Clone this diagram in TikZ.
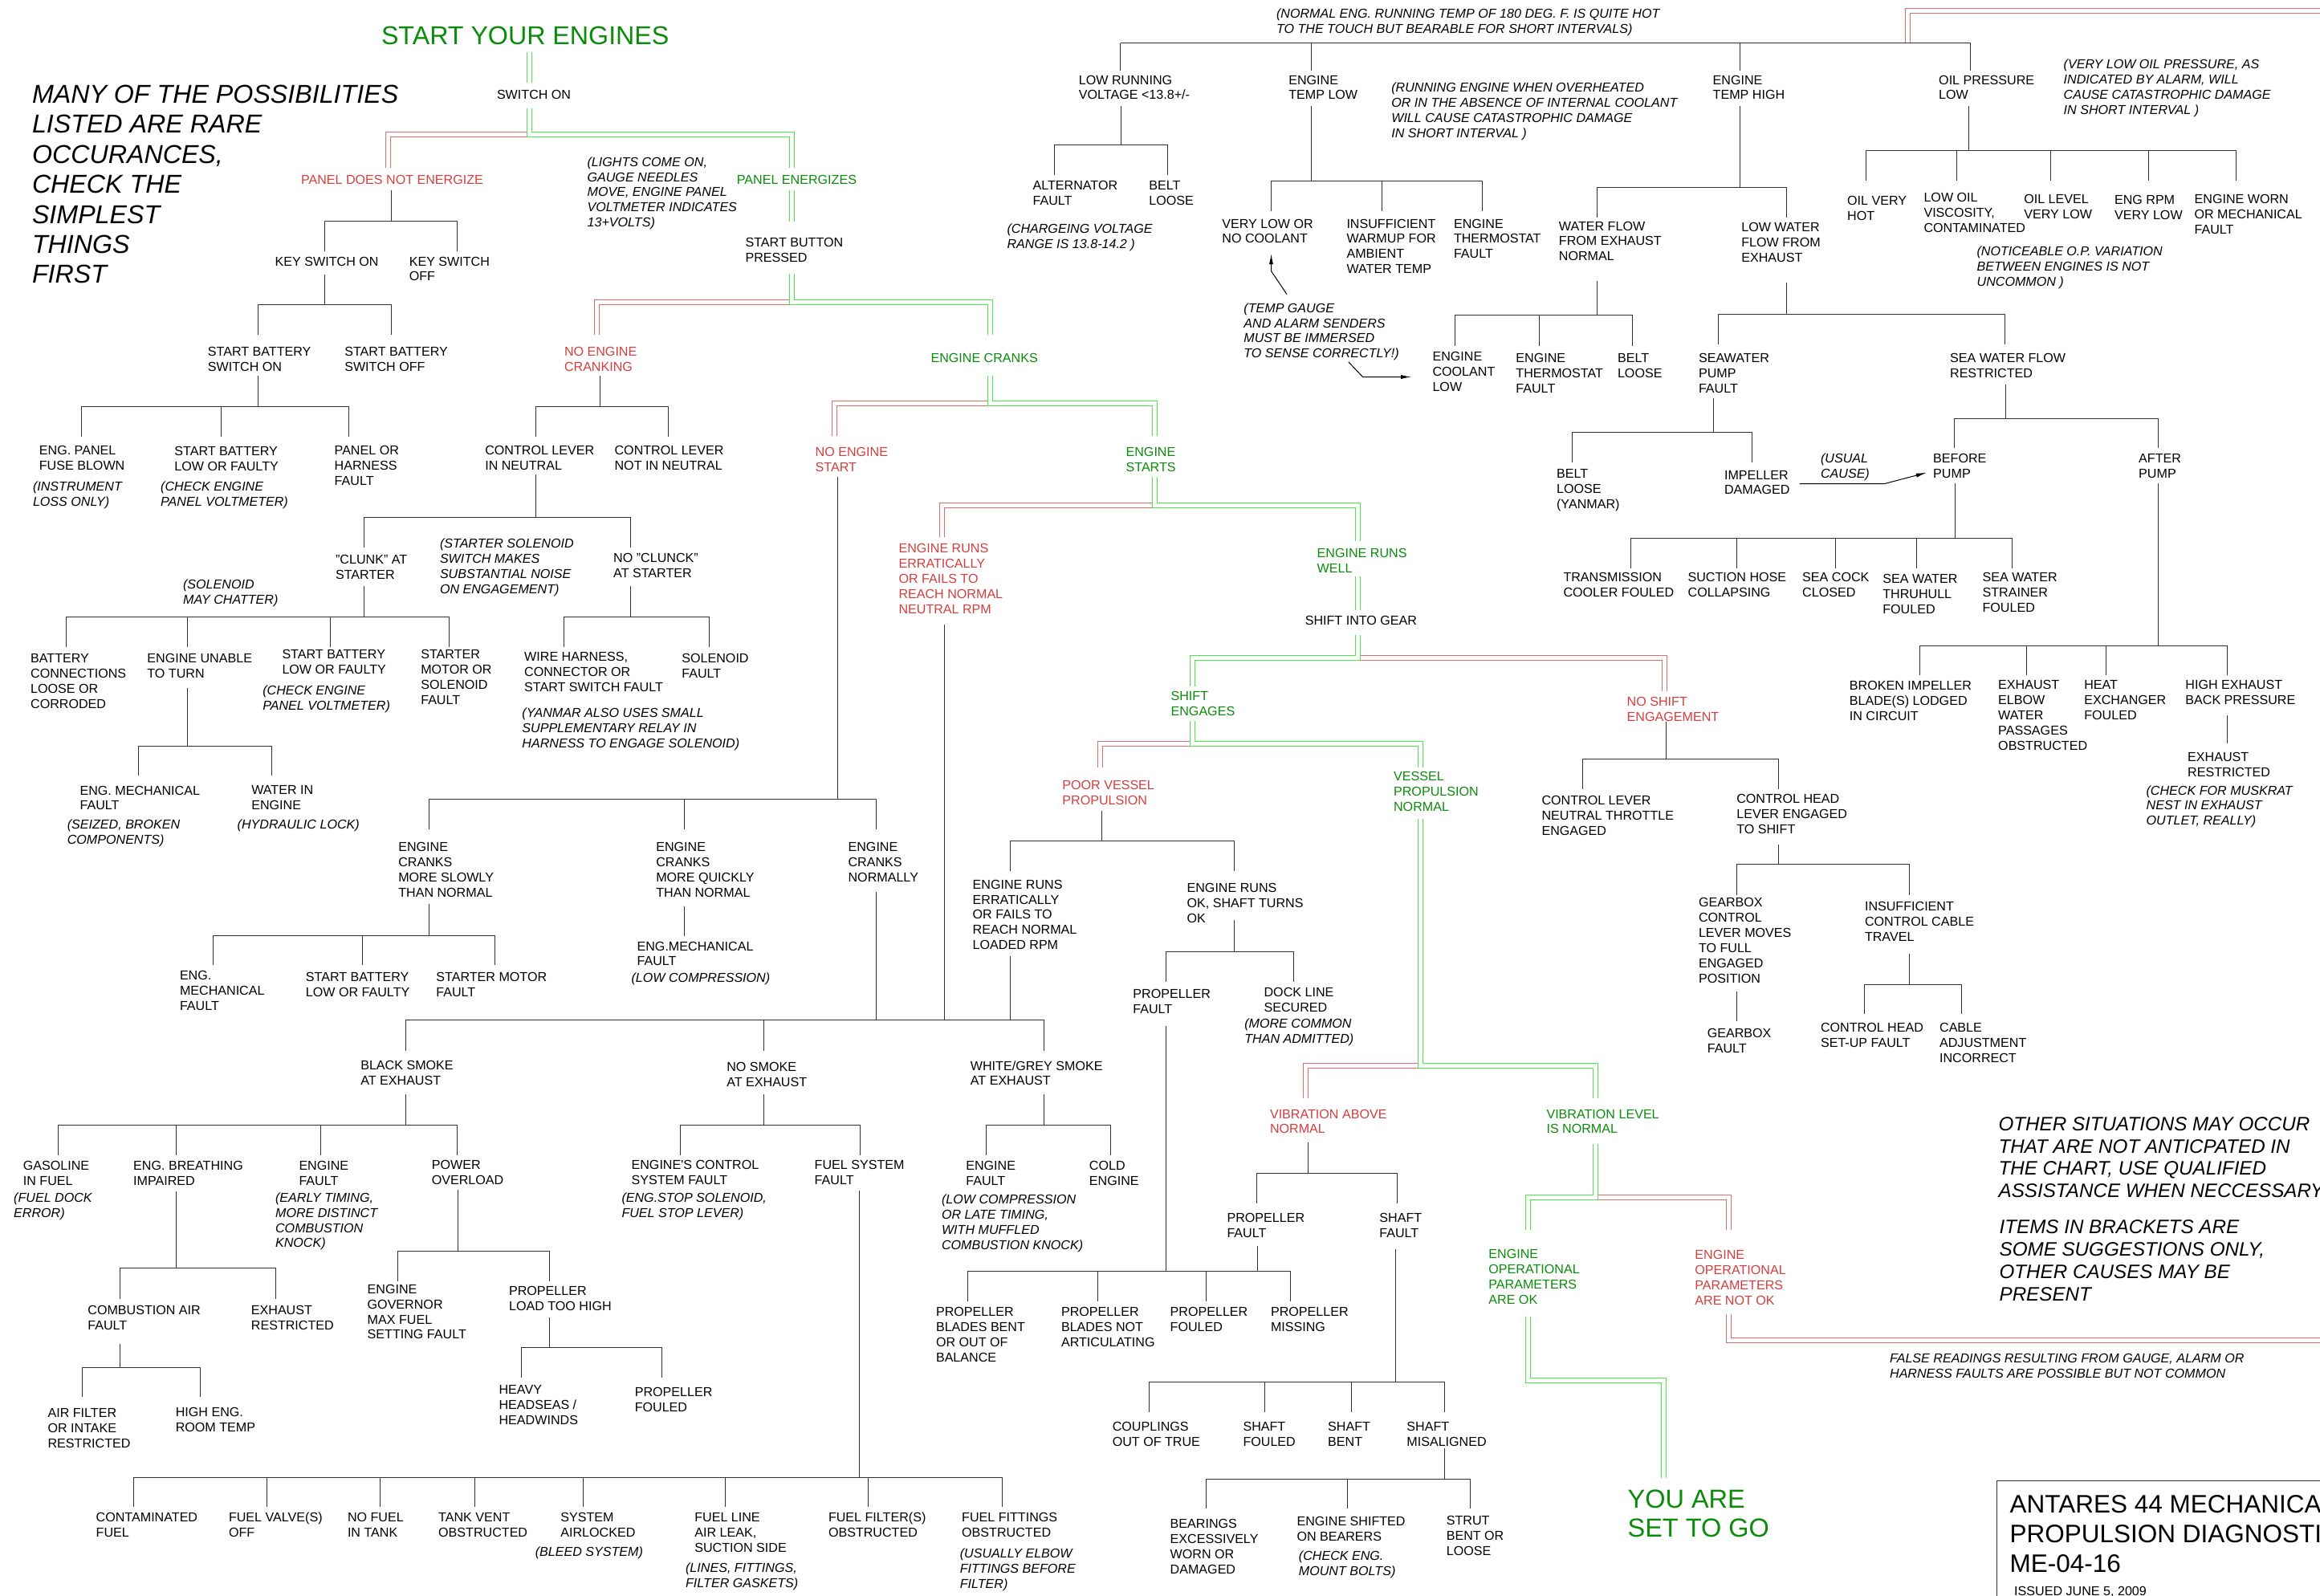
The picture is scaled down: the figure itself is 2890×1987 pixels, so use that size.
\documentclass[tikz,border=0pt]{standalone}
\usepackage{fontspec}
\setmainfont{Liberation Sans}
\usetikzlibrary{arrows.meta}
\definecolor{gtxt}{RGB}{10,140,10}
\definecolor{rtxt}{RGB}{212,62,62}
\definecolor{gline}{RGB}{70,235,70}
\definecolor{rline}{RGB}{218,110,110}
\definecolor{bline}{RGB}{50,50,50}
\newcommand\fsm{\fontsize{8.05pt}{9.45pt}\selectfont}
\newcommand\fbg{\fontsize{16.1pt}{18.7pt}\selectfont}
\newcommand\fgo{\fontsize{16.25pt}{18.2pt}\selectfont}
\newcommand\fmd{\fontsize{12.1pt}{13.95pt}\selectfont}
\newcommand\fti{\fontsize{15.75pt}{18.4pt}\selectfont}
\newcommand\fork[5]{%
  \pgfmathsetmacro\fpx{round(#1)+0.5}%
  \pgfmathsetmacro\fpy{round(#2)}%
  \pgfmathsetmacro\fby{round(#3)+0.5}%
  \pgfmathsetmacro\fcy{round(#4)}%
  \draw[conn] (\fpx,\fpy) -- (\fpx,\fby);%
  \foreach \cx in {#5}{\pgfmathsetmacro\rx{round(\cx)+0.5}%
    \draw[conn] (\fpx,\fby) -- (\rx,\fby) -- (\rx,\fcy);}%
}
\begin{document}
\begin{tikzpicture}[x=0.5pt,y=-0.5pt,
 lbl/.style={anchor=north west,inner sep=0pt,outer sep=0pt,align=left,font=\fsm},
 note/.style={lbl,font=\fsm\itshape},
 gl/.style={lbl,text=gtxt},
 rl/.style={lbl,text=rtxt},
 conn/.style={draw=bline,line width=0.5pt},
 gdbl/.style={draw=gline,double=white,line width=0.5pt,double distance=2.5pt},
 rdbl/.style={draw=rline,double=white,line width=0.5pt,double distance=2.5pt},
 arr/.style={draw=black,line width=0.5pt,-{Latex[length=6.5pt,width=2.6pt]}}]
\fill[white] (0,0) rectangle (2890,1987);
\useasboundingbox (0,0) rectangle (2890,1987);

% ---------- double-line main path ----------
\draw[gdbl] (659.5,65) -- (659.5,102.6);
\draw[rdbl] (659.5,167.5) -- (483.5,167.5) -- (483.5,209);
\draw[gdbl] (659.5,134.6) -- (659.5,167.5) -- (986.5,167.5) -- (986.5,209);
\draw[gdbl] (986.5,237) -- (986.5,275.6);
\draw[rdbl] (986.5,376.5) -- (743.5,376.5) -- (743.5,416.6);
\draw[gdbl] (986.5,341) -- (986.5,376.5) -- (1233.5,376.5) -- (1233.5,416.6);
\draw[rdbl] (1233.5,502.5) -- (1039.5,502.5) -- (1039.5,542.7);
\draw[gdbl] (1233.5,467.9) -- (1233.5,502.5) -- (1438.5,502.5) -- (1438.5,542.7);
\draw[rdbl] (1438.5,629.5) -- (1173.5,629.5) -- (1173.5,669.2);
\draw[gdbl] (1438.5,594) -- (1438.5,629.5) -- (1691.5,629.5) -- (1691.5,673.5);
\draw[gdbl] (1691.5,717.5) -- (1691.5,760.2);
\draw[rdbl] (1691.5,819.5) -- (2073.5,819.5) -- (2073.5,860.7);
\draw[gdbl] (1691.5,791) -- (1691.5,819.5) -- (1485.5,819.5) -- (1485.5,855.1);
\draw[rdbl] (1485.5,926.5) -- (1370.5,926.5) -- (1370.5,955.5);
\draw[gdbl] (1485.5,897.8) -- (1485.5,926.5) -- (1769.5,926.5) -- (1769.5,955.5);
\draw[rdbl] (1769.5,1327.5) -- (1626.5,1327.5) -- (1626.5,1367.9);
\draw[gdbl] (1769.5,1019.6) -- (1769.5,1327.5) -- (1987.5,1327.5) -- (1987.5,1367.9);
\draw[rdbl] (1987.5,1491.5) -- (2153.5,1491.5) -- (2153.5,1532.2);
\draw[gdbl] (1987.5,1424.9) -- (1987.5,1491.5) -- (1903.5,1491.5) -- (1903.5,1532.2);
\draw[gdbl] (1903.5,1640.4) -- (1903.5,1719.5) -- (2072.5,1719.5) -- (2072.5,1841);
\draw[rdbl] (2153.5,1637.3) -- (2153.5,1669.5) -- (2910,1669.5);
\draw[rdbl] (2376.5,53.5) -- (2376.5,13.5) -- (2910,13.5);

% ---------- black tree connectors ----------
\fork{486.5}{237}{274.8}{313.2}{403.7,569}
\fork{403.7}{341.8}{379}{416.6}{320.8,486.5}
\fork{320.8}{467.9}{505.5}{543.5}{100.6,275.2,434.4}
\fork{666.7}{591}{644.4}{682}{453,785.2}
\fork{746.5}{467.9}{505.5}{543.5}{666.7,832.2}
\fork{453}{729.9}{767.9}{806}{81.5,233.3,410.7,558.7}
\fork{233.3}{856.8}{928.6}{966.2}{172.3,338}
\fork{785.2}{730.3}{767.9}{806}{702.1,882.5}
\fork{1042.7}{594}{995.3}{1033.3}{533.6,851.8,1091.1}
\fork{533.6}{1126.4}{1164.9}{1202.1}{264.5,450.7,616}
\draw[conn] (852.5,1128.6) -- (852.5,1165.5);
\fork{1091.1}{1110.6}{1269.6}{1308.8}{504.5,951.4,1299.7}
\draw[conn] (1176.5,778.2) -- (1176.5,1270.5);
\draw[conn] (1258.5,1190.5) -- (1258.5,1270.5);
\fork{504.5}{1362.6}{1400.8}{1439.3}{72.2,218.8,399,569}
\fork{218.8}{1484}{1579}{1617.6}{149,343.1}
\fork{149}{1673.7}{1703}{1740.3}{102,249.1}
\fork{570.4}{1481.8}{1557.6}{1595.7}{494.9,684.4}
\fork{684.4}{1640.8}{1678.1}{1716.2}{648.6,823.8}
\fork{950.5}{1362.6}{1400.8}{1439.3}{847.1,1070.6}
\fork{1070.1}{1483.1}{1839.7}{1877.4}{166.2,332,472.6,591.3,726.3,903,1081.3,1247.5}
\fork{1299.7}{1362.6}{1400.8}{1439.3}{1228.4,1382.5}
\fork{1372.3}{1010.2}{1047.4}{1085}{1257.8,1536.8}
\fork{1536.8}{1145.7}{1185}{1222.6}{1452,1610.9}
\fork{1452}{1278.1}{1582.6}{1621.1}{1205.2,1367.2,1501.9,1607.2}
\draw[conn] (1566.5,1551.9) -- (1566.5,1583.5);
\fork{1629}{1422.7}{1460.8}{1498.5}{1565.2,1740.3}
\fork{1738.4}{1556.3}{1720.6}{1758.7}{1431,1574.6,1682.6,1799.4}
\fork{1799.4}{1803.8}{1841.9}{1879.2}{1502.4,1678.4,1831.1}
\fork{2074.6}{899.1}{944.8}{983.3}{1971.2,2215}
\fork{2215}{1051.7}{1076.4}{1114.9}{2163,2377.9}
\draw[conn] (2163.5,1235.4) -- (2163.5,1271.7);
\fork{2377.9}{1187.5}{1226}{1263.2}{2321.6,2442.6}
\draw[conn] (1395.5,53.5) -- (2454.5,53.5);
\foreach \cx in {1395.5,1633.5,2167.5,2454.5} {\draw[conn] (\cx,53.5) -- (\cx,87.6);}
\fork{1395.6}{131.6}{179.9}{218}{1312.7,1454}
\fork{1633}{131.6}{225.2}{262.8}{1583,1720.8,1846}
\fork{2167}{131.6}{232.9}{270.5}{1988.5,2225.2}
\fork{1988.5}{350.4}{392.3}{430.7}{1811.5,1917.2,2032.7}
\fork{2225.2}{351.7}{391}{428.6}{2139.8,2496.6}
\fork{2133.7}{495.7}{538.4}{576}{1958.2,2181.9}
\fork{2497.6}{478.6}{521.3}{557.6}{2434.2,2687.5}
\fork{2434.7}{601.6}{670}{707.7}{2031.3,2163,2285.7,2387.2,2506}
\fork{2687.5}{601.6}{803.8}{841.4}{2391,2523.6,2623.3,2773.7}
\draw[conn] (2774.5,891.4) -- (2774.5,925.6);
\fork{2452.4}{131.6}{186.7}{225.2}{2324.4,2436.6,2554.4,2675.9,2784.8}

% ---------- annotation arrows ----------
\coordinate (a1s) at (1603,366.6); \coordinate (a1e) at (1583.5,316.2);
\draw[arr] (a1s) -- (1583.5,337.6) -- (a1e);
\coordinate (a2s) at (1679.8,450.8); \coordinate (a2e) at (1758,469.5);
\draw[arr] (a2s) -- (1697.5,469.5) -- (a2e);
\coordinate (a3s) at (2241.5,602.5); \coordinate (a3e) at (2399.8,588.8);
\draw[arr] (a3s) -- (2347.6,602.5) -- (a3e);

% ---------- title box ----------
\draw[draw=bline,line width=0.6pt] (2487.5,2000) -- (2487.5,1844.5) -- (2910,1844.5);

% ---------- big texts ----------
\node[lbl,font=\fbg,text=gtxt] (start) at (475,33.3) {START YOUR ENGINES};
\node[lbl,font=\fbg\itshape] (many) at (40,106) {MANY OF THE POSSIBILITIES\\LISTED ARE RARE\\OCCURANCES,\\CHECK THE\\SIMPLEST\\THINGS\\FIRST};
\node[lbl,font=\fgo,text=gtxt] (go) at (2027.6,1855.6) {YOU ARE\\SET TO GO};
\node[lbl,font=\fmd\itshape] (other) at (2489.6,1391.2) {OTHER SITUATIONS MAY OCCUR\\THAT ARE NOT ANTICPATED IN\\THE CHART, USE QUALIFIED\\ASSISTANCE WHEN NECCESSARY};
\node[lbl,font=\fmd\itshape] (items) at (2490.6,1520) {ITEMS IN BRACKETS ARE\\SOME SUGGESTIONS ONLY,\\OTHER CAUSES MAY BE\\PRESENT};
\node[lbl,font=\fti] (antares) at (2503.6,1862.6) {ANTARES 44 MECHANICAL\\PROPULSION DIAGNOSTICS\\ME-04-16};
\node[lbl] (issued) at (2509.2,1976) {ISSUED JUNE 5, 2009};
\node[note] (false) at (2354.1,1686.3) {FALSE READINGS RESULTING FROM GAUGE, ALARM OR\\HARNESS FAULTS ARE POSSIBLE BUT NOT COMMON};

% ---------- left / centre ----------
\node[lbl] (switch) at (619,112.6) {SWITCH ON};
\node[rl] (pdne) at (375,218.5) {PANEL DOES NOT ENERGIZE};
\node[gl] (pe) at (917.9,218.5) {PANEL ENERGIZES};
\node[note] (lights) at (731.6,195.5) {(LIGHTS COME ON,\\GAUGE NEEDLES\\MOVE, ENGINE PANEL\\VOLTMETER INDICATES\\13+VOLTS)};
\node[lbl] (keyon) at (342.7,319.8) {KEY SWITCH ON};
\node[lbl] (keyoff) at (509.8,319.8) {KEY SWITCH\\OFF};
\node[lbl] (sbon) at (258.9,432.6) {START BATTERY\\SWITCH ON};
\node[lbl] (sboff) at (429.3,432.6) {START BATTERY\\SWITCH OFF};
\node[lbl] (fuse) at (48.9,555.2) {ENG. PANEL\\FUSE BLOWN};
\node[note] (instr) at (41,599.7) {(INSTRUMENT\\LOSS ONLY)};
\node[lbl] (sblowa) at (217.4,556.2) {START BATTERY\\LOW OR FAULTY};
\node[note] (chka) at (200.2,599.7) {(CHECK ENGINE\\PANEL VOLTMETER)};
\node[lbl] (panelh) at (416.7,555.2) {PANEL OR\\HARNESS\\FAULT};
\node[lbl] (sbp) at (928.6,296.7) {START BUTTON\\PRESSED};
\node[rl] (nec) at (703,432.6) {NO ENGINE\\CRANKING};
\node[gl] (ec) at (1159.5,440.7) {ENGINE CRANKS};
\node[lbl] (clin) at (604.3,555.2) {CONTROL LEVER\\IN NEUTRAL};
\node[lbl] (clnot) at (765.6,555.2) {CONTROL LEVER\\NOT IN NEUTRAL};
\node[rl] (nes) at (1015.7,557.4) {NO ENGINE\\START};
\node[gl] (es) at (1402.6,557.4) {ENGINE\\STARTS};
\node[lbl] (clunk) at (418.1,691.2) {"CLUNK" AT\\STARTER};
\node[note] (sol) at (548,670.7) {(STARTER SOLENOID\\SWITCH MAKES\\SUBSTANTIAL NOISE\\ON ENGAGEMENT)};
\node[note] (chat) at (228.1,721.5) {(SOLENOID\\MAY CHATTER)};
\node[lbl] (noclunk) at (764.2,689.1) {NO "CLUNCK"\\AT STARTER};
\node[lbl] (batt) at (38.2,814.7) {BATTERY\\CONNECTIONS\\LOOSE OR\\CORRODED};
\node[lbl] (unable) at (183.4,814.7) {ENGINE UNABLE\\TO TURN};
\node[lbl] (sblowb) at (351.5,809.6) {START BATTERY\\LOW OR FAULTY};
\node[note] (chkb) at (327.3,853.6) {(CHECK ENGINE\\PANEL VOLTMETER)};
\node[lbl] (stmot) at (524.3,809.6) {STARTER\\MOTOR OR\\SOLENOID\\FAULT};
\node[lbl] (wire) at (653.2,812.1) {WIRE HARNESS,\\CONNECTOR OR\\START SWITCH FAULT};
\node[note] (yanmar) at (650.4,882.2) {(YANMAR ALSO USES SMALL\\SUPPLEMENTARY RELAY IN\\HARNESS TO ENGAGE SOLENOID)};
\node[lbl] (solf) at (849.4,814.2) {SOLENOID\\FAULT};
\node[lbl] (engmecha) at (99.6,978.8) {ENG. MECHANICAL\\FAULT};
\node[note] (seized) at (83.8,1020.7) {(SEIZED, BROKEN\\COMPONENTS)};
\node[lbl] (water) at (313.3,978.8) {WATER IN\\ENGINE};
\node[note] (hydr) at (295.7,1020.7) {(HYDRAULIC LOCK)};
\node[lbl] (slow) at (496.3,1049.2) {ENGINE\\CRANKS\\MORE SLOWLY\\THAN NORMAL};
\node[lbl] (quick) at (817.3,1049.2) {ENGINE\\CRANKS\\MORE QUICKLY\\THAN NORMAL};
\node[lbl] (normal) at (1056.6,1049.2) {ENGINE\\CRANKS\\NORMALLY};
\node[lbl] (engmechb) at (224,1209.5) {ENG.\\MECHANICAL\\FAULT};
\node[lbl] (sblowc) at (380.9,1211.7) {START BATTERY\\LOW OR FAULTY};
\node[lbl] (stmotb) at (543.4,1211.7) {STARTER MOTOR\\FAULT};
\node[lbl] (engmechc) at (793.6,1172.8) {ENG.MECHANICAL\\FAULT};
\node[note] (lowcomp) at (786.6,1211.7) {(LOW COMPRESSION)};
\node[rl] (errn) at (1119.5,677.5) {ENGINE RUNS\\ERRATICALLY\\OR FAILS TO\\REACH NORMAL\\NEUTRAL RPM};
\node[lbl] (errl) at (1211.7,1095.9) {ENGINE RUNS\\ERRATICALLY\\OR FAILS TO\\REACH NORMAL\\LOADED RPM};
\node[rl] (poor) at (1323.4,971.9) {POOR VESSEL\\PROPULSION};
\node[lbl] (runsok) at (1478.6,1100.1) {ENGINE RUNS\\OK, SHAFT TURNS\\OK};
\node[lbl] (propfa) at (1411.4,1232.6) {PROPELLER\\FAULT};
\node[lbl] (dock) at (1574.6,1230.5) {DOCK LINE\\SECURED};
\node[note] (morecom) at (1550.3,1268.9) {(MORE COMMON\\THAN ADMITTED)};
\node[gl] (erw) at (1640.7,683.5) {ENGINE RUNS\\WELL};
\node[lbl] (sig) at (1625.8,767.7) {SHIFT INTO GEAR};
\node[gl] (se) at (1458.6,861.7) {SHIFT\\ENGAGES};
\node[rl] (nse) at (2026.7,868.5) {NO SHIFT\\ENGAGEMENT};
\node[gl] (vpn) at (1736.1,961.7) {VESSEL\\PROPULSION\\NORMAL};
\node[lbl] (clnt) at (1920.5,991.6) {CONTROL LEVER\\NEUTRAL THROTTLE\\ENGAGED};
\node[lbl] (chl) at (2163.3,989.5) {CONTROL HEAD\\LEVER ENGAGED\\TO SHIFT};
\node[lbl] (gbc) at (2116,1118.5) {GEARBOX\\CONTROL\\LEVER MOVES\\TO FULL\\ENGAGED\\POSITION};
\node[lbl] (icc) at (2323,1123.6) {INSUFFICIENT\\CONTROL CABLE\\TRAVEL};
\node[lbl] (gbf) at (2126.8,1280.9) {GEARBOX\\FAULT};
\node[lbl] (chsu) at (2268,1274.5) {CONTROL HEAD\\SET-UP FAULT};
\node[lbl] (cable) at (2416.1,1274.5) {CABLE\\ADJUSTMENT\\INCORRECT};
\node[rl] (van) at (1582,1381.8) {VIBRATION ABOVE\\NORMAL};
\node[gl] (vln) at (1926.5,1381.8) {VIBRATION LEVEL\\IS NORMAL};
\node[lbl] (propfb) at (1528.5,1511.1) {PROPELLER\\FAULT};
\node[lbl] (shaftf) at (1718.4,1511.1) {SHAFT\\FAULT};
\node[gl] (eok) at (1854.4,1556.2) {ENGINE\\OPERATIONAL\\PARAMETERS\\ARE OK};
\node[rl] (enok) at (2111.4,1557.1) {ENGINE\\OPERATIONAL\\PARAMETERS\\ARE NOT OK};

% ---------- smoke branches ----------
\node[lbl] (black) at (449.3,1321.4) {BLACK SMOKE\\AT EXHAUST};
\node[lbl] (nosmoke) at (905.3,1323.6) {NO SMOKE\\AT EXHAUST};
\node[lbl] (white) at (1208.9,1321.4) {WHITE/GREY SMOKE\\AT EXHAUST};
\node[lbl] (gas) at (28.9,1446.2) {GASOLINE\\IN FUEL};
\node[note] (fdock) at (17.2,1485.6) {(FUEL DOCK\\ERROR)};
\node[lbl] (breath) at (166.2,1446.2) {ENG. BREATHING\\IMPAIRED};
\node[lbl] (engfa) at (372.5,1446.2) {ENGINE\\FAULT};
\node[note] (early) at (343.1,1485.6) {(EARLY TIMING,\\MORE DISTINCT\\COMBUSTION\\KNOCK)};
\node[lbl] (power) at (537.8,1445.3) {POWER\\OVERLOAD};
\node[lbl] (comb) at (109.4,1626.3) {COMBUSTION AIR\\FAULT};
\node[lbl] (exra) at (312.9,1626.3) {EXHAUST\\RESTRICTED};
\node[lbl] (airf) at (59.6,1754.2) {AIR FILTER\\OR INTAKE\\RESTRICTED};
\node[lbl] (hier) at (218.8,1753.3) {HIGH ENG.\\ROOM TEMP};
\node[lbl] (gov) at (457.7,1600) {ENGINE\\GOVERNOR\\MAX FUEL\\SETTING FAULT};
\node[lbl] (plth) at (634.1,1602.2) {PROPELLER\\LOAD TOO HIGH};
\node[lbl] (heavy) at (621.6,1725.7) {HEAVY\\HEADSEAS /\\HEADWINDS};
\node[lbl] (pfoula) at (790.8,1727.9) {PROPELLER\\FOULED};
\node[lbl] (ecsf) at (786.6,1445.3) {ENGINE\textquotesingle S CONTROL\\SYSTEM FAULT};
\node[note] (engstop) at (774.5,1485.6) {(ENG.STOP SOLENOID,\\FUEL STOP LEVER)};
\node[lbl] (fsf) at (1014.7,1445.3) {FUEL SYSTEM\\FAULT};
\node[lbl] (engfb) at (1203.3,1446.2) {ENGINE\\FAULT};
\node[note] (lowcompb) at (1173,1488.2) {(LOW COMPRESSION\\OR LATE TIMING,\\WITH MUFFLED\\COMBUSTION KNOCK)};
\node[lbl] (cold) at (1356.9,1446.2) {COLD\\ENGINE};
\node[lbl] (pbb) at (1166,1628.5) {PROPELLER\\BLADES BENT\\OR OUT OF\\BALANCE};
\node[lbl] (pbna) at (1322,1628.5) {PROPELLER\\BLADES NOT\\ARTICULATING};
\node[lbl] (pfoulb) at (1457.7,1628.5) {PROPELLER\\FOULED};
\node[lbl] (pmiss) at (1583,1628.5) {PROPELLER\\MISSING};
\node[lbl] (coup) at (1385.8,1770.9) {COUPLINGS\\OUT OF TRUE};
\node[lbl] (sfoul) at (1548.5,1770.9) {SHAFT\\FOULED};
\node[lbl] (sbent) at (1654.2,1770.9) {SHAFT\\BENT};
\node[lbl] (smis) at (1752.4,1770.9) {SHAFT\\MISALIGNED};
\node[lbl] (bear) at (1457.7,1892.2) {BEARINGS\\EXCESSIVELY\\WORN OR\\DAMAGED};
\node[lbl] (eshift) at (1615.5,1889.2) {ENGINE SHIFTED\\ON BEARERS};
\node[note] (mount) at (1617.9,1932.1) {(CHECK ENG.\\MOUNT BOLTS)};
\node[lbl] (strut) at (1801.8,1888.3) {STRUT\\BENT OR\\LOOSE};
\node[lbl] (cont) at (119.7,1884.3) {CONTAMINATED\\FUEL};
\node[lbl] (fvalve) at (285,1884.3) {FUEL VALVE(S)\\OFF};
\node[lbl] (nofuel) at (433,1884.3) {NO FUEL\\IN TANK};
\node[lbl] (tank) at (546.2,1884.3) {TANK VENT\\OBSTRUCTED};
\node[lbl] (sysair) at (698.4,1884.3) {SYSTEM\\AIRLOCKED};
\node[note] (bleed) at (666.8,1926.4) {(BLEED SYSTEM)};
\node[lbl] (fline) at (865.3,1884.3) {FUEL LINE\\AIR LEAK,\\SUCTION SIDE};
\node[note] (lines) at (854.1,1947) {(LINES, FITTINGS,\\FILTER GASKETS)};
\node[lbl] (ffilt) at (1032,1884.3) {FUEL FILTER(S)\\OBSTRUCTED};
\node[lbl] (ffit) at (1198.2,1884.3) {FUEL FITTINGS\\OBSTRUCTED};
\node[note] (usually) at (1195.8,1928.6) {(USUALLY ELBOW\\FITTINGS BEFORE\\FILTER)};

% ---------- right top ----------
\node[note] (normtemp) at (1590,11.3) {(NORMAL ENG. RUNNING TEMP OF 180 DEG. F. IS QUITE HOT\\TO THE TOUCH BUT BEARABLE FOR SHORT INTERVALS)};
\node[lbl] (lrv) at (1343.9,93.8) {LOW RUNNING\\VOLTAGE <13.8+/-};
\node[lbl] (alt) at (1286.6,225.4) {ALTERNATOR\\FAULT};
\node[lbl] (belta) at (1431.4,225.4) {BELT\\LOOSE};
\node[note] (charge) at (1254.5,279.2) {(CHARGEING VOLTAGE\\RANGE IS 13.8-14.2 )};
\node[lbl] (etl) at (1605.3,93.8) {ENGINE\\TEMP LOW};
\node[note] (running) at (1733.3,103.2) {(RUNNING ENGINE WHEN OVERHEATED\\OR IN THE ABSENCE OF INTERNAL COOLANT\\WILL CAUSE CATASTROPHIC DAMAGE\\IN SHORT INTERVAL )};
\node[lbl] (vlow) at (1522.4,272.8) {VERY LOW OR\\NO COOLANT};
\node[lbl] (insuf) at (1677.5,272.8) {INSUFFICIENT\\WARMUP FOR\\AMBIENT\\WATER TEMP};
\node[lbl] (thermoa) at (1811,272.8) {ENGINE\\THERMOSTAT\\FAULT};
\node[note] (tgauge) at (1549.4,377.5) {(TEMP GAUGE\\AND ALARM SENDERS\\MUST BE IMMERSED\\TO SENSE CORRECTLY!)};
\node[lbl] (eth) at (2133.7,93.8) {ENGINE\\TEMP HIGH};
\node[lbl] (wfn) at (1941.9,275.8) {WATER FLOW\\FROM EXHAUST\\NORMAL};
\node[lbl] (lwf) at (2169.3,277.5) {LOW WATER\\FLOW FROM\\EXHAUST};
\node[lbl] (ecl) at (1784.5,438.2) {ENGINE\\COOLANT\\LOW};
\node[lbl] (thermob) at (1888.4,440.7) {ENGINE\\THERMOSTAT\\FAULT};
\node[lbl] (beltb) at (2015,440.7) {BELT\\LOOSE};
\node[lbl] (swpf) at (2116,440.7) {SEAWATER\\PUMP\\FAULT};
\node[lbl] (swfr) at (2429.1,440.7) {SEA WATER FLOW\\RESTRICTED};
\node[lbl] (beltc) at (1939.1,584.7) {BELT\\LOOSE\\(YANMAR)};
\node[lbl] (imp) at (2148,586) {IMPELLER\\DAMAGED};
\node[note] (usual) at (2268,564.6) {(USUAL\\CAUSE)};
\node[lbl] (before) at (2408.2,565.5) {BEFORE\\PUMP};
\node[lbl] (after) at (2664.2,565.5) {AFTER\\PUMP};
\node[lbl] (tcf) at (1947.5,713.4) {TRANSMISSION\\COOLER FOULED};
\node[lbl] (shc) at (2102.6,713.4) {SUCTION HOSE\\COLLAPSING};
\node[lbl] (scc) at (2245.2,713.4) {SEA COCK\\CLOSED};
\node[lbl] (swt) at (2345.3,715.6) {SEA WATER\\THRUHULL\\FOULED};
\node[lbl] (sws) at (2469.6,713.4) {SEA WATER\\STRAINER\\FOULED};
\node[lbl] (bimp) at (2303.9,848.4) {BROKEN IMPELLER\\BLADE(S) LODGED\\IN CIRCUIT};
\node[lbl] (exel) at (2489.2,847.6) {EXHAUST\\ELBOW\\WATER\\PASSAGES\\OBSTRUCTED};
\node[lbl] (heat) at (2596.3,847.6) {HEAT\\EXCHANGER\\FOULED};
\node[lbl] (hebp) at (2722.4,847.6) {HIGH EXHAUST\\BACK PRESSURE};
\node[lbl] (exrb) at (2725.2,936.9) {EXHAUST\\RESTRICTED};
\node[note] (musk) at (2673.6,978.4) {(CHECK FOR MUSKRAT\\NEST IN EXHAUST\\OUTLET, REALLY)};
\node[lbl] (opl) at (2415.2,93.8) {OIL PRESSURE\\LOW};
\node[note] (vlop) at (2570.7,74.1) {(VERY LOW OIL PRESSURE, AS\\INDICATED BY ALARM, WILL\\CAUSE CATASTROPHIC DAMAGE\\IN SHORT INTERVAL )};
\node[lbl] (ovh) at (2301.1,244.2) {OIL VERY\\HOT};
\node[lbl] (lov) at (2396.5,240.7) {LOW OIL\\VISCOSITY,\\CONTAMINATED};
\node[lbl] (olvl) at (2521.3,242) {OIL LEVEL\\VERY LOW};
\node[lbl] (erpm) at (2634,243.3) {ENG RPM\\VERY LOW};
\node[lbl] (eworn) at (2733.6,242) {ENGINE WORN\\OR MECHANICAL\\FAULT};
\node[note] (notic) at (2462.6,307) {(NOTICEABLE O.P. VARIATION\\BETWEEN ENGINES IS NOT\\UNCOMMON )};
\end{tikzpicture}
\end{document}
